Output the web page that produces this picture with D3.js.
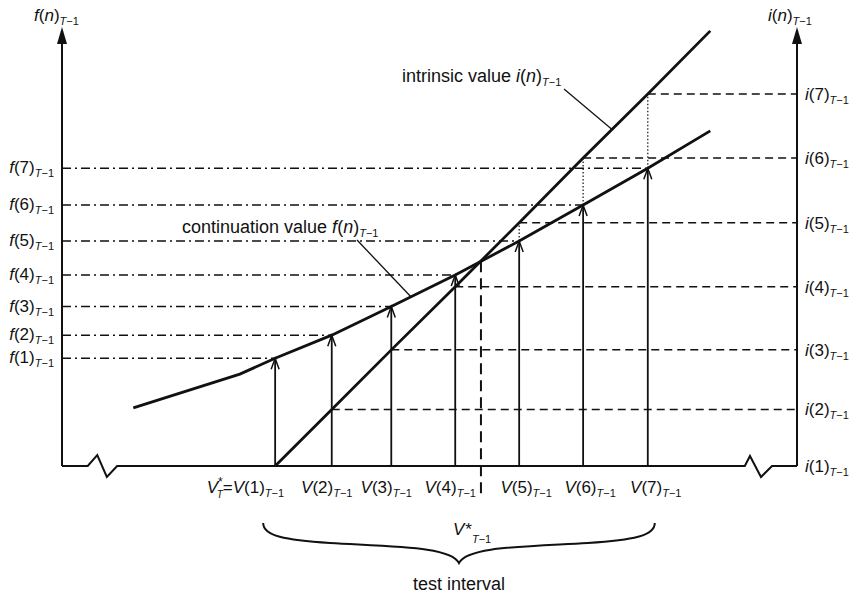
<!DOCTYPE html>
<html>
<head>
<meta charset="utf-8">
<script src="https://cdn.jsdelivr.net/npm/d3@7"></script>
<style>
  body { margin: 0; background: #fff; }
  text { font-family: "Liberation Sans", Arial, sans-serif; fill: #111; }
</style>
</head>
<body>
<div id="chart"></div>
<script>
/* Test interval diagram: continuation vs intrinsic value */
const steps = [1, 2, 3, 4, 5, 6, 7];                              // n
const vValues = [29.0, 36.7, 44.8, 53.5, 62.2, 70.9, 79.7];        // V(n)
const fValues = [14.65, 17.8, 21.7, 26.0, 30.6, 35.5, 40.5];       // continuation value f(n)
const iValues = [0, 7.7, 15.8, 24.4, 33.1, 41.9, 50.6];            // intrinsic value i(n)
const vStar = 57.0;                                                // V*
const contStart = [[9.7, 7.9], [24.2, 12.5]];                      // continuation line left of V(1)
const contEnd = [88.2, 45.6];
const intrEnd = [88.2, 59.2];
const labelShift = [0, -5, -5, -5, 7, 7, 8];                       // bottom label nudges

(function diagram(){
    const width = 852, height = 595;
    const ink = "#111";

    const svg = d3.select("#chart").append("svg")
        .attr("width", width).attr("height", height)
        .attr("viewBox", [0, 0, width, height]);

    const x = d3.scaleLinear().domain([0, 100]).range([62, 797]);
    const y = d3.scaleLinear().domain([0, 60]).range([466, 25]);

    const line = d3.line().x(d => x(d[0])).y(d => y(d[1]));

    // text with italic parts and T-1 subscripts
    const SUB = [{t: "T", it: 1, fs: 11, dy: 4}, {t: "\u22121", fs: 11}];
    function label(px, py, anchor, segs, size) {
        const t = svg.append("text")
            .attr("x", px).attr("y", py)
            .attr("text-anchor", anchor)
            .attr("font-size", size || 17);
        segs.forEach(s => {
            t.append("tspan").text(s.t)
                .attr("font-style", s.it ? "italic" : null)
                .attr("font-size", s.fs || null)
                .attr("dy", s.dy || null)
                .attr("dx", s.dx || null);
        });
        return t;
    }

    // axes with arrow heads
    [x(0), x(100)].forEach(ax => {
        svg.append("line")
            .attr("x1", ax).attr("x2", ax)
            .attr("y1", y(0)).attr("y2", 40)
            .attr("stroke", ink).attr("stroke-width", 2);
        svg.append("path")
            .attr("d", `M${ax},27 L${ax - 5},44 L${ax + 5},44 Z`)
            .attr("fill", ink);
    });

    // baseline with break marks
    const b = y(0);
    svg.append("path")
        .attr("d", `M${x(0)},${b} L${x(3.5)},${b} L${x(4.8)},${b - 11} L${x(6.1)},${b + 11} L${x(7.5)},${b}
                    L${x(92.9)},${b} L${x(93.6)},${b - 10} L${x(95.1)},${b + 11} L${x(96.6)},${b} L${x(100)},${b}`)
        .attr("fill", "none").attr("stroke", ink).attr("stroke-width", 2);

    // dash-dot continuation levels from left axis
    svg.selectAll(".flev").data(steps).join("line")
        .attr("x1", x(0)).attr("x2", (d, k) => x(vValues[k]))
        .attr("y1", (d, k) => y(fValues[k])).attr("y2", (d, k) => y(fValues[k]))
        .attr("stroke", ink).attr("stroke-width", 1.5)
        .attr("stroke-dasharray", "9,4,2,4");

    // dashed intrinsic levels to right axis
    svg.selectAll(".ilev").data(steps.slice(1)).join("line")
        .attr("x1", d => x(vValues[d - 1])).attr("x2", x(100))
        .attr("y1", d => y(iValues[d - 1])).attr("y2", d => y(iValues[d - 1]))
        .attr("stroke", ink).attr("stroke-width", 1.5)
        .attr("stroke-dasharray", "8,5");

    // dotted gaps where intrinsic exceeds continuation
    svg.selectAll(".gap").data(steps.filter((d, k) => iValues[k] > fValues[k])).join("line")
        .attr("x1", d => x(vValues[d - 1])).attr("x2", d => x(vValues[d - 1]))
        .attr("y1", d => y(fValues[d - 1])).attr("y2", d => y(iValues[d - 1]))
        .attr("stroke", ink).attr("stroke-width", 1.2)
        .attr("stroke-dasharray", "1.5,2");

    // vertical arrows V(n) -> f(n)
    const arrows = svg.selectAll(".arr").data(steps).join("g");
    arrows.append("line")
        .attr("x1", (d, k) => x(vValues[k])).attr("x2", (d, k) => x(vValues[k]))
        .attr("y1", y(0)).attr("y2", (d, k) => y(fValues[k]))
        .attr("stroke", ink).attr("stroke-width", 1.8);
    arrows.append("path")
        .attr("d", (d, k) => {
            const ax = x(vValues[k]), ay = y(fValues[k]);
            return `M${ax - 4},${ay + 11} L${ax},${ay} L${ax + 4},${ay + 11}`;
        })
        .attr("fill", "none").attr("stroke", ink).attr("stroke-width", 1.5);

    // V* dashed marker
    const vsIdx = 3;
    const vsY = fValues[vsIdx] + (vStar - vValues[vsIdx]) / (vValues[vsIdx + 1] - vValues[vsIdx]) * (fValues[vsIdx + 1] - fValues[vsIdx]);
    svg.append("line")
        .attr("x1", x(vStar)).attr("x2", x(vStar))
        .attr("y1", y(vsY)).attr("y2", 497)
        .attr("stroke", ink).attr("stroke-width", 2)
        .attr("stroke-dasharray", "11,6");

    // value lines
    const contPts = contStart.concat(vValues.map((v, k) => [v, fValues[k]]), [contEnd]);
    const intrPts = vValues.map((v, k) => [v, iValues[k]]).concat([intrEnd]);
    svg.append("path").attr("d", line(contPts))
        .attr("fill", "none").attr("stroke", ink).attr("stroke-width", 2.8);
    svg.append("path").attr("d", line(intrPts))
        .attr("fill", "none").attr("stroke", ink).attr("stroke-width", 2.8);

    // axis titles
    label(34, 21, "start", [{t: "f", it: 1}, {t: "("}, {t: "n", it: 1}, {t: ")"}].concat(SUB));
    label(768, 21, "start", [{t: "i", it: 1}, {t: "("}, {t: "n", it: 1}, {t: ")"}].concat(SUB));

    // left and right level labels
    steps.forEach((n, k) => {
        label(x(0) - 8, y(fValues[k]) + 5, "end", [{t: "f", it: 1}, {t: `(${n})`}].concat(SUB));
        label(x(100) + 8, y(iValues[k]) + 6, "start", [{t: "i", it: 1}, {t: `(${n})`}].concat(SUB));
    });

    // bottom labels
    steps.forEach((n, k) => {
        if (k === 0) {
            // V*_T stacked: star above, T below
            label(x(vValues[k]) + 9, 493, "end", [
                {t: "V", it: 1}, {t: "*", fs: 12, dy: -7}, {t: "T", it: 1, fs: 10, dx: -6, dy: 12},
                {t: "=", dy: -5}, {t: "V", it: 1}, {t: `(${n})`}].concat(SUB));
        } else {
            label(x(vValues[k]) + labelShift[k], 493, "middle", [{t: "V", it: 1}, {t: `(${n})`}].concat(SUB));
        }
    });

    // V* label and brace
    label(x(vStar) - 28, 535, "start", [{t: "V", it: 1}, {t: "*", fs: 17, dx: 1}].concat([{t: "T", it: 1, fs: 11, dy: 8}, {t: "\u22121", fs: 11}]));
    const bl = x(vValues[0]) - 12, br = x(vValues[6]) + 7, bm = (bl + br) / 2, by = 523;
    svg.append("path")
        .attr("d", `M${bl},${by} C${bl},${by + 13} ${bl + 22},${by + 17} ${bl + 67},${by + 20}
                    C${bm - 58},${by + 24} ${bm - 8},${by + 24} ${bm},${by + 40}
                    C${bm + 8},${by + 24} ${bm + 58},${by + 24} ${br - 67},${by + 20}
                    C${br - 22},${by + 17} ${br},${by + 13} ${br},${by}`)
        .attr("fill", "none").attr("stroke", ink).attr("stroke-width", 2);
    label(bm, 590, "middle", [{t: "test interval"}], 18);

    // annotations
    label(402, 82, "start", [{t: "intrinsic value "}, {t: "i", it: 1}, {t: "("}, {t: "n", it: 1}, {t: ")"}].concat(SUB), 18);
    svg.append("line")
        .attr("x1", 564).attr("y1", 89)
        .attr("x2", x(74.8)).attr("y2", y(45.8))
        .attr("stroke", ink).attr("stroke-width", 1.3);
    label(182, 233, "start", [{t: "continuation value "}, {t: "f", it: 1}, {t: "("}, {t: "n", it: 1}, {t: ")"}].concat(SUB), 18);
    svg.append("line")
        .attr("x1", 357).attr("y1", 240)
        .attr("x2", x(47.5)).attr("y2", y(23.0))
        .attr("stroke", ink).attr("stroke-width", 1.3);
})();
</script>
</body>
</html>
